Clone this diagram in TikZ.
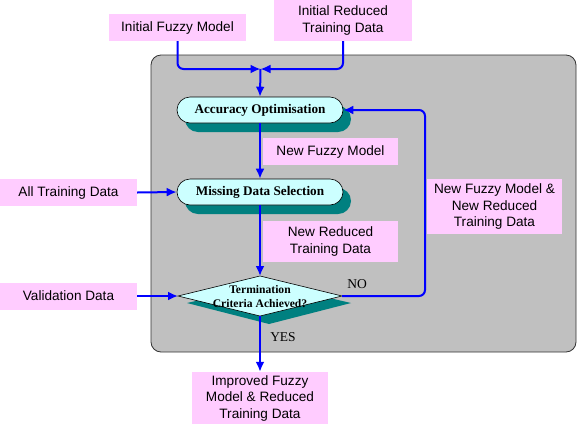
\documentclass[tikz,border=0pt]{standalone}
\usepackage{fontspec}
\setmainfont{Liberation Sans}
\newfontfamily\serifb{Liberation Serif}
\usetikzlibrary{arrows.meta,shapes.geometric,shapes.misc}
\definecolor{pinkbg}{RGB}{255,204,255}
\definecolor{cyanbg}{RGB}{204,255,255}
\definecolor{tealsh}{RGB}{0,128,128}
\definecolor{graybg}{RGB}{192,192,192}
\definecolor{flowblue}{RGB}{0,0,255}
\tikzset{
  lbl/.style={fill=pinkbg, inner sep=0pt, align=center, font=\fontsize{13.6}{16.5}\selectfont},
  procbox/.style={rounded rectangle, draw=black, line width=0.6pt, fill=cyanbg, minimum width=166pt, minimum height=26pt, inner sep=0pt, font=\serifb\bfseries\fontsize{13.2}{15}\selectfont},
  procshadow/.style={rounded rectangle, fill=tealsh, minimum width=166pt, minimum height=26pt, inner sep=0pt},
  flow/.style={draw=flowblue, line width=2pt, rounded corners=6pt, -{Latex[length=10pt,width=9pt]}},
  yn/.style={font=\serifb\fontsize{13.5}{15}\selectfont, inner sep=0pt}
}
\begin{document}
\begin{tikzpicture}[x=1pt,y=-1pt]
\useasboundingbox (0,0) rectangle (579,424);
% gray container
\draw[fill=graybg, draw=black!80, line width=0.8pt, rounded corners=10pt] (151,55) rectangle (576,352);
% shadows
\node[procshadow] at (268,119) {};
\node[procshadow] at (268,201) {};
\fill[tealsh] (187,303) -- (269,284) -- (351,303) -- (269,324) -- cycle;
% processes
\node[procbox] (acc) at (260,110) {Accuracy Optimisation};
\node[procbox] (mds) at (260,192) {Missing Data Selection};
\fill[cyanbg, draw=black, line width=0.6pt] (178,296) coordinate (dl) -- (260,276) coordinate (dt) -- (342,296) coordinate (dr) -- (260,316) coordinate (db) -- cycle;
\node[font=\serifb\bfseries\fontsize{11.6}{14}\selectfont, align=center, inner sep=0pt] (term) at (260,296.5) {Termination\\Criteria Achieved?};
% labels
\node[lbl, minimum width=137pt, minimum height=27pt] (ifm) at (177.5,27.5) {Initial Fuzzy Model};
\node[lbl, minimum width=138pt, minimum height=41pt] (ird) at (343,20.5) {Initial Reduced\\Training Data};
\node[lbl, minimum width=137pt, minimum height=27pt] (atd) at (68.5,192.5) {All Training Data};
\node[lbl, minimum width=137pt, minimum height=27pt] (vd) at (68.5,296) {Validation Data};
\node[lbl, minimum width=135pt, minimum height=27pt] (nfm) at (330.5,151.5) {New Fuzzy Model};
\node[lbl, minimum width=135pt, minimum height=41pt] (nrd) at (330.5,241.5) {New Reduced\\Training Data};
\node[lbl, minimum width=135pt, minimum height=55pt] (nboth) at (494.5,206.5) {New Fuzzy Model \&\\New Reduced\\Training Data};
\node[lbl, minimum width=136pt, minimum height=52pt] (imp) at (260,398) {Improved Fuzzy\\Model \& Reduced\\Training Data};
% junction
\coordinate (j) at (260.5,69);
\draw[flow] (ifm.south) |- (j);
\draw[flow] (ird.south) |- (j);
\draw[flow] (j) -- (acc.north);
\draw[flow] (acc.south) -- (mds.north);
\draw[flow] (mds.south) -- (dt);
\draw[flow] (db) -- (imp.north);
\draw[flow] (atd.east) -- (mds.west);
\draw[flow] (vd.east) -- (dl);
\coordinate (rc) at (425,296);
\draw[flow] (dr) -- (rc) |- (acc.east);
\node[yn] (yes) at (283,337) {YES};
\node[yn] (no) at (357,284) {NO};
\end{tikzpicture}
\end{document}
